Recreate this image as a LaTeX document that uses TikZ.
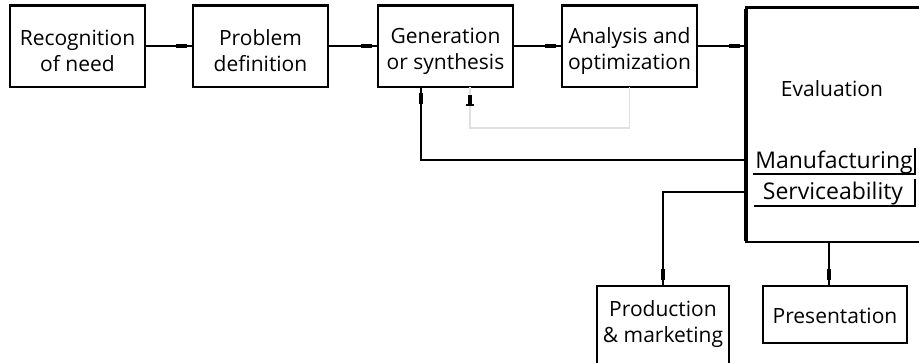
\documentclass[tikz,border=0pt]{standalone}
\usepackage{fontspec}
\setmainfont{Open Sans}
\usetikzlibrary{decorations.markings}
\begin{document}
\begin{tikzpicture}[x=1pt,y=-1pt,
  txt/.style={font=\fontsize{21}{26}\selectfont, align=center, inner sep=0pt},
  box/.style={draw, line width=1.8pt, outer sep=0pt, inner sep=0pt, font=\fontsize{21}{26}\selectfont, align=center},
  topbox/.style={box, minimum width=135pt, minimum height=82pt},
  conn/.style={line width=1.5pt},
  tipmark/.style={postaction={decorate}, decoration={markings, mark=at position -6pt with {\fill[black] (-11pt,-2.3pt) rectangle (0pt,2.3pt);}}},
  faint/.style={line width=1.5pt, draw=black!12}
]
\clip (0,0) rectangle (919,362);
\fill[white] (0,0) rectangle (919,362);
% top row
\node[topbox] (rec) at (77.5,46) {};
\node[topbox] (prob) at (260.5,46) {};
\node[topbox] (gen) at (445.5,46) {};
\node[topbox] (ana) at (629.5,46) {};
\node[txt] (rectxt) at (77.5,51) {Recognition\\of need};
\node[txt] (probtxt) at (260.5,51) {Problem\\definition};
\node[txt] (gentxt) at (445.5,51) {Generation\\or synthesis};
\node[txt] (anatxt) at (629.5,51) {Analysis and\\optimization};
\foreach \n in {rec,prob,gen,ana}{\draw[line width=3pt] ([xshift=-0.9pt]\n.north west) -- ([xshift=0.9pt]\n.north east);}
% evaluation
\node[box, line width=2.2pt, minimum width=200pt, minimum height=235pt, anchor=north west] (eval) at (746,7) {};
\draw[line width=4pt] ([yshift=-1.5pt]eval.north west) -- ([yshift=1.1pt]eval.south west);
\draw[line width=3pt] (eval.north west) -- (eval.north east);
\node[txt] (evaltxt) at (832,89) {Evaluation};
\node[txt, font=\fontsize{23}{26}\selectfont] (manu) at (834,162) {Manufacturing};
\node[txt, font=\fontsize{23}{26}\selectfont] (serv) at (833,194) {Serviceability};
\draw[conn] (753,174) -- (915,174) -- (915,148);
\draw[conn] (754,206) -- (915,206) -- (915,179);
% bottom
\node[box, minimum width=132pt, minimum height=90pt, anchor=north west] (prod) at (597,286) {};
\node[txt] (prodtxt) at (663,324) {Production\\\& marketing};
\node[box, minimum width=144pt, minimum height=57pt, anchor=north west] (pres) at (763,286) {};
\node[txt] (prestxt) at (835,316) {Presentation};
% connectors
\draw[conn, tipmark] (rec.east) -- (prob.west);
\draw[conn, tipmark] (prob.east) -- (gen.west);
\draw[conn, tipmark] (gen.east) -- (ana.west);
\draw[conn, tipmark] (ana.east) -- (ana.east -| eval.west);
\draw[conn, tipmark] (eval.west |- 0,160) -| ([xshift=-24.5pt]gen.south);
\draw[faint] (ana.south) -- (ana.south |- 0,128) -| ([xshift=24.5pt]gen.south);
\fill[black] ([xshift=22.5pt,yshift=-8pt]gen.south) rectangle ([xshift=26.5pt,yshift=-18pt]gen.south);
\draw[line width=1.5pt] ([xshift=20.5pt,yshift=-18pt]gen.south) -- ([xshift=28.5pt,yshift=-18pt]gen.south);
\draw[conn, tipmark] (eval.west |- 0,192) -| (prod.north);
\draw[conn, tipmark] (eval.south -| 829,0) -- (pres.north -| 829,0);
\end{tikzpicture}
\end{document}
